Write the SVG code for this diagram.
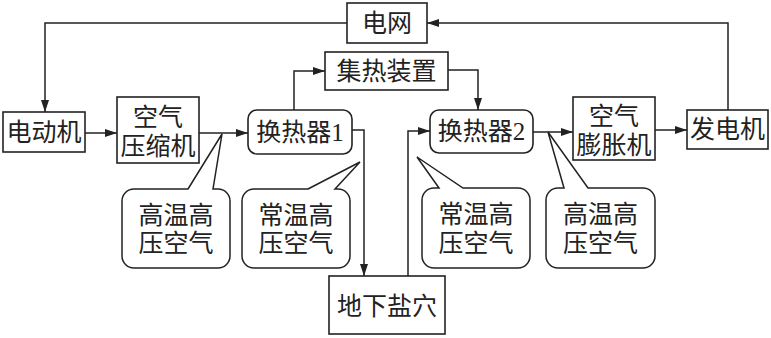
<svg xmlns="http://www.w3.org/2000/svg" width="771" height="338" viewBox="0 0 771 338">
<style>
.box{fill:#fff;stroke:#222;stroke-width:1.6}
.ln{fill:none;stroke:#222;stroke-width:1.5}
.co{fill:#fff;stroke:#222;stroke-width:1.5}
text{font-family:"Liberation Serif","Noto Sans CJK SC",serif;font-size:25px;fill:#222;text-anchor:middle;dominant-baseline:central}
</style>
<defs>
<marker id="ah" viewBox="0 0 12 8" refX="12" refY="4" markerWidth="12" markerHeight="8" markerUnits="userSpaceOnUse" orient="auto">
<path d="M0,0 L12,4 L0,8 Z" fill="#222"/>
</marker>
</defs>
<rect width="771" height="338" fill="#fff"/>
<g id="connectors">
<path class="ln" d="M347,23 H45 V112" marker-end="url(#ah)"/>
<path class="ln" d="M85,133 H117" marker-end="url(#ah)"/>
<path class="ln" d="M199,133 H248" marker-end="url(#ah)"/>
<path class="ln" d="M294,110 V71 H325" marker-end="url(#ah)"/>
<path class="ln" d="M448,70 H478 V110" marker-end="url(#ah)"/>
<path class="ln" d="M352,130 H364 V276" marker-end="url(#ah)"/>
<path class="ln" d="M408,276 V131 H430" marker-end="url(#ah)"/>
<path class="ln" d="M533,132 H573" marker-end="url(#ah)"/>
<path class="ln" d="M655,130 H687" marker-end="url(#ah)"/>
<path class="ln" d="M728,110 V23 H427" marker-end="url(#ah)"/>
</g>
<g id="grid"><rect class="box" x="347" y="3" width="80" height="40"/><text x="387" y="23">电网</text></g>
<g id="motor"><rect class="box" x="3" y="112" width="82" height="40"/><text x="44" y="132">电动机</text></g>
<g id="compressor"><rect class="box" x="117" y="97" width="82" height="66"/><text x="158" y="117">空气</text><text x="158" y="146">压缩机</text></g>
<g id="hx1"><rect class="box" x="248" y="110" width="104" height="44" rx="9"/><text x="300" y="132">换热器1</text></g>
<g id="collector"><rect class="box" x="325" y="52" width="123" height="38"/><text x="386.5" y="71">集热装置</text></g>
<g id="hx2"><rect class="box" x="430" y="110" width="103" height="43" rx="9"/><text x="481.5" y="131.5">换热器2</text></g>
<g id="cavern"><rect class="box" x="329" y="276" width="116" height="58"/><text x="387" y="306">地下盐穴</text></g>
<g id="expander"><rect class="box" x="573" y="97" width="82" height="63"/><text x="614" y="116">空气</text><text x="614" y="145">膨胀机</text></g>
<g id="generator"><rect class="box" x="687" y="110" width="81" height="39"/><text x="727.5" y="129.5">发电机</text></g>
<g id="callout1"><path class="co" d="M188,189 L222,134 L213,189 H218 A12,12 0 0 1 230,201 V256 A12,12 0 0 1 218,268 H134 A12,12 0 0 1 122,256 V201 A12,12 0 0 1 134,189 Z"/><text x="176" y="215">高温高</text><text x="176" y="243">压空气</text></g>
<g id="callout2"><path class="co" d="M308,189 L360,162 L335,189 H338 A12,12 0 0 1 350,201 V256 A12,12 0 0 1 338,268 H254 A12,12 0 0 1 242,256 V201 A12,12 0 0 1 254,189 Z"/><text x="296" y="215">常温高</text><text x="296" y="243">压空气</text></g>
<g id="callout3"><path class="co" d="M439,188 L417,157 L463,188 H518 A12,12 0 0 1 530,200 V256 A12,12 0 0 1 518,268 H434 A12,12 0 0 1 422,256 V200 A12,12 0 0 1 434,188 Z"/><text x="476" y="214">常温高</text><text x="476" y="243">压空气</text></g>
<g id="callout4"><path class="co" d="M564,188 L548,132 L588,188 H643 A12,12 0 0 1 655,200 V256 A12,12 0 0 1 643,268 H558 A12,12 0 0 1 546,256 V200 A12,12 0 0 1 558,188 Z"/><text x="600.5" y="214">高温高</text><text x="600.5" y="243">压空气</text></g>
</svg>
